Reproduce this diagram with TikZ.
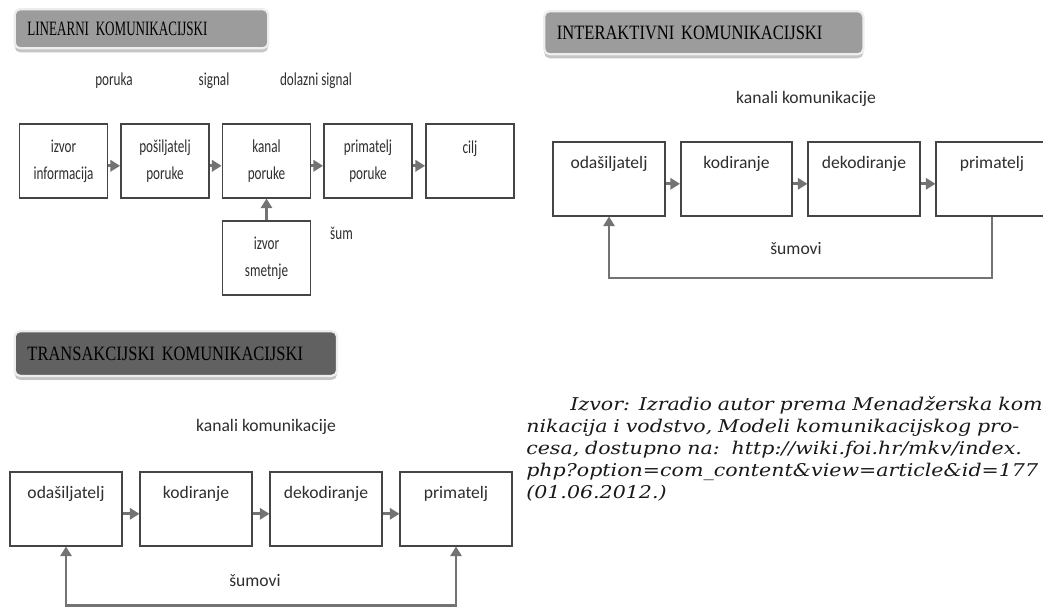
\documentclass[tikz,border=0pt]{standalone}
\usepackage{fontspec}
\setmainfont{Liberation Serif}
\newfontfamily\calfont{Carlito}
\newfontfamily\calnarrow[FakeStretch=0.72]{Carlito}
\newfontfamily\hdnarrow[FakeStretch=0.64]{Liberation Serif}
\newfontfamily\hdcond[FakeStretch=0.81]{Liberation Serif}
\newfontfamily\notefont[FakeStretch=1.17]{DejaVu Serif}
\usetikzlibrary{arrows.meta, positioning, shadows}
\definecolor{boxline}{HTML}{454545}
\definecolor{ink}{HTML}{2E2E2E}
\definecolor{arrowgray}{HTML}{737373}
\definecolor{hdlight}{HTML}{9C9C9C}
\definecolor{hddark}{HTML}{616161}
\definecolor{hdrim}{HTML}{EDEDED}
\tikzset{
  hdr/.style={rectangle, rounded corners=4pt, draw=hdrim, line width=1.6pt, anchor=north west,
              inner xsep=0.32cm, align=left, text=black,
              drop shadow={shadow xshift=0pt, shadow yshift=-0.1cm, fill=black!45, opacity=0.5}},
  linbox/.style={rectangle, draw=boxline, line width=1.3pt, text=ink, align=center,
                 minimum width=2.2cm, minimum height=1.83cm, inner sep=0pt,
                 font=\calnarrow\fontsize{13}{19.2}\selectfont},
  chbox/.style={rectangle, draw=boxline, line width=1.3pt, text=ink, minimum width=2.78cm,
                inner sep=0pt, text height=0.66cm, text depth=1.17cm,
                font=\calfont\fontsize{12.5}{15}\selectfont},
  lintxt/.style={text=ink, font=\calnarrow\fontsize{13}{16}\selectfont},
  chtxt/.style={text=ink, font=\calfont\fontsize{12.5}{15}\selectfont},
  flow/.style={-{Triangle[length=2.4mm, width=2.8mm]}, draw=arrowgray, line width=2pt},
  back/.style={draw=arrowgray, line width=1.6pt},
  tip/.style={-{Triangle[length=2.4mm, width=2.8mm]}},
}

\begin{document}
\begin{tikzpicture}[x=0.025cm, y=-0.025cm]
  \useasboundingbox (0,0) rectangle (1043,607);
  \clip (0,0) rectangle (1043,607);
  \fill[white] (0,0) rectangle (1043,607);

  % --- section headers ---
  \node[hdr, fill=hdlight, minimum height=0.98cm, text width=5.70cm,
        font=\hdnarrow\fontsize{14.5}{16}\selectfont] (hlin) at (13.5,8) {LINEARNI KOMUNIKACIJSKI};
  \node[hdr, fill=hdlight, minimum height=1.08cm, text width=7.34cm,
        font=\hdcond\fontsize{14.5}{16}\selectfont] (hint) at (543,10) {INTERAKTIVNI KOMUNIKACIJSKI};
  \node[hdr, fill=hddark, minimum height=1.12cm, text width=7.42cm,
        font=\hdcond\fontsize{14.5}{16}\selectfont] (htra) at (13.5,330) {TRANSAKCIJSKI KOMUNIKACIJSKI};

  % --- linear model ---
  \node[lintxt] (lporuka) at (114,81) {poruka};
  \node[lintxt] (lsignal) at (214,81) {signal};
  \node[lintxt] (ldolaz)  at (316,81) {dolazni signal};
  \node[linbox] (lizvor)  at (63.5,161) {izvor\\ informacija};
  \node[linbox] (lposil)  at (165,161)  {pošiljatelj\\ poruke};
  \node[linbox] (lkanal)  at (266.5,161) {kanal\\ poruke};
  \node[linbox] (lprim)   at (368,161)  {primatelj\\ poruke};
  \node[linbox] (lcilj)   at (470,161)  {cilj\\ \mbox{}};
  \node[linbox] (lsmet)   at (266.5,258) {izvor\\ smetnje};
  \node[lintxt] (lsum)    at (341.5,233) {šum};

  \draw[flow] ([yshift=-0.12cm]lizvor.east) -- ([yshift=-0.12cm]lposil.west);
  \draw[flow] ([yshift=-0.12cm]lposil.east) -- ([yshift=-0.12cm]lkanal.west);
  \draw[flow] ([yshift=-0.12cm]lkanal.east) -- ([yshift=-0.12cm]lprim.west);
  \draw[flow] ([yshift=-0.12cm]lprim.east)  -- ([yshift=-0.12cm]lcilj.west);
  \draw[flow] (lsmet) -- (lkanal);

  % --- interactive model ---
  \node[chtxt] (ikanali) at (806,99) {kanali komunikacije};
  \node[chbox] (iodas) at (609,179)   {odašiljatelj};
  \node[chbox] (ikod)  at (736.5,179) {kodiranje};
  \node[chbox] (idek)  at (864,179)   {dekodiranje};
  \node[chbox] (iprim) at (992,179)   {primatelj};
  \node[chtxt] (isum)  at (796,249)   {šumovi};
  \coordinate (ifb) at (800,278);

  \draw[flow] ([yshift=-0.12cm]iodas.east) -- ([yshift=-0.12cm]ikod.west);
  \draw[flow] ([yshift=-0.12cm]ikod.east)  -- ([yshift=-0.12cm]idek.west);
  \draw[flow] ([yshift=-0.12cm]idek.east)  -- ([yshift=-0.12cm]iprim.west);
  \draw[back, tip] (iprim.south) -- (iprim.south |- ifb) -| (iodas.south);

  % --- transactional model ---
  \node[chtxt] (tkanali) at (266,427) {kanali komunikacije};
  \node[chbox] (todas) at (66,509)  {odašiljatelj};
  \node[chbox] (tkod)  at (196,509) {kodiranje};
  \node[chbox] (tdek)  at (326,509) {dekodiranje};
  \node[chbox] (tprim) at (456,509) {primatelj};
  \node[chtxt] (tsum)  at (255,581) {šumovi};
  \coordinate (tfb) at (260,605.5);

  \draw[flow] ([yshift=-0.12cm]todas.east) -- ([yshift=-0.12cm]tkod.west);
  \draw[flow] ([yshift=-0.12cm]tkod.east)  -- ([yshift=-0.12cm]tdek.west);
  \draw[flow] ([yshift=-0.12cm]tdek.east)  -- ([yshift=-0.12cm]tprim.west);
  \draw[back, {Triangle[length=2.4mm, width=2.8mm]}-{Triangle[length=2.4mm, width=2.8mm]}]
    (todas.south) -- (todas.south |- tfb) -- (tprim.south |- tfb) -- (tprim.south);

  % --- source note (runs past the right edge, as printed) ---
  \node[anchor=north west, inner sep=0pt, align=left, text width=16cm, text=black!90,
        font=\notefont\itshape\fontsize{12.5}{15.6}\selectfont] (izvor) at (526,396) {%
    \hspace*{1.1cm}Izvor: Izradio autor prema Menadžerska komu-\\
    nikacija i vodstvo, Modeli komunikacijskog pro-\\
    cesa, dostupno na:\ \ http://wiki.foi.hr/mkv/index.\\
    php?option=com\_content\&view=article\&id=177\\
    (01.06.2012.)};
\end{tikzpicture}
\end{document}
